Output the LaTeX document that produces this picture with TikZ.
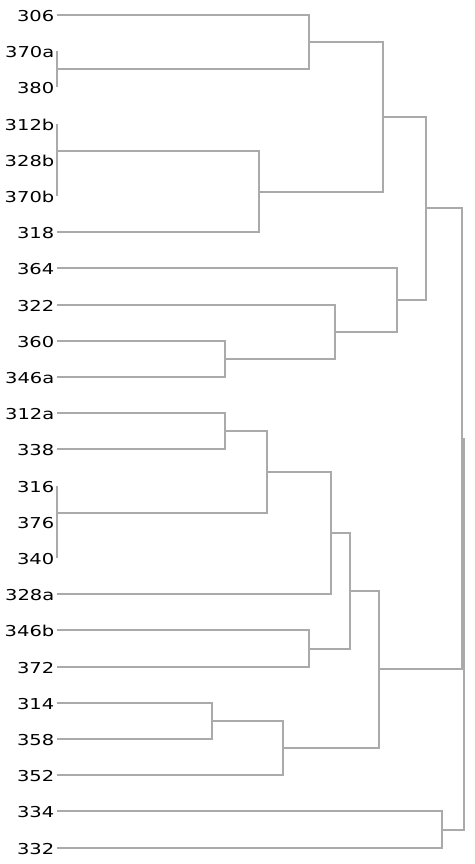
\documentclass[tikz,border=0pt]{standalone}
\usepackage{fontspec}
\newfontfamily\labfont[FakeStretch=1.3]{DejaVu Sans}
\definecolor{linkgray}{RGB}{170,170,170}
\begin{document}
\begin{tikzpicture}[x=1pt,y=-1pt,
  link/.style={draw=linkgray,line width=2pt},
  lab/.style={anchor=base east,inner sep=0pt,font=\labfont\fontsize{15}{18}\selectfont,text=black}]
\useasboundingbox (0,0) rectangle (474,864);
% leaves
\foreach \i/\t in {0/306,1/370a,2/380,3/312b,4/328b,5/370b,6/318,7/364,8/322,9/360,10/346a,11/312a,12/338,13/316,14/376,15/340,16/328a,17/346b,18/372,19/314,20/358,21/352,22/334,23/332}{
  \pgfmathsetmacro{\yy}{round(15+36.2*\i)}
  \node[lab] (n\t) at (54.5,\yy+6.5) {\t};
  \coordinate (l\t) at (57,\yy);
}
% zero-height clusters
\coordinate (T1) at (57,69);
\coordinate (T2) at (57,151);
\coordinate (T3) at (57,513);
\draw[link] (l370a) -- (l380);
\draw[link] (l312b) -- (l370b);
\draw[link] (l316) -- (l340);
% internal nodes
\coordinate (A) at (309,42);
\coordinate (B) at (259,192);
\coordinate (C) at (383,117);
\coordinate (D) at (225,359);
\coordinate (E) at (335,332);
\coordinate (F) at (397,300);
\coordinate (G) at (426,208);
\coordinate (H) at (225,431);
\coordinate (I) at (267,472);
\coordinate (J) at (331,533);
\coordinate (K) at (309,649);
\coordinate (L) at (350,591);
\coordinate (M) at (212,721);
\coordinate (N) at (283,748);
\coordinate (O) at (379,669);
\coordinate (P) at (462,439);
\coordinate (Q) at (442,830);
\coordinate (R) at (464,634);
\foreach \m/\a/\b in {A/l306/T1,B/T2/l318,C/A/B,D/l360/l346a,E/l322/D,F/l364/E,G/C/F,
  H/l312a/l338,I/H/T3,J/I/l328a,K/l346b/l372,L/J/K,M/l314/l358,N/M/l352,O/L/N,
  P/G/O,Q/l334/l332,R/P/Q}{
  \draw[link] (\a) -- (\a -| \m) -- (\b -| \m) -- (\b);
}
\end{tikzpicture}
\end{document}
